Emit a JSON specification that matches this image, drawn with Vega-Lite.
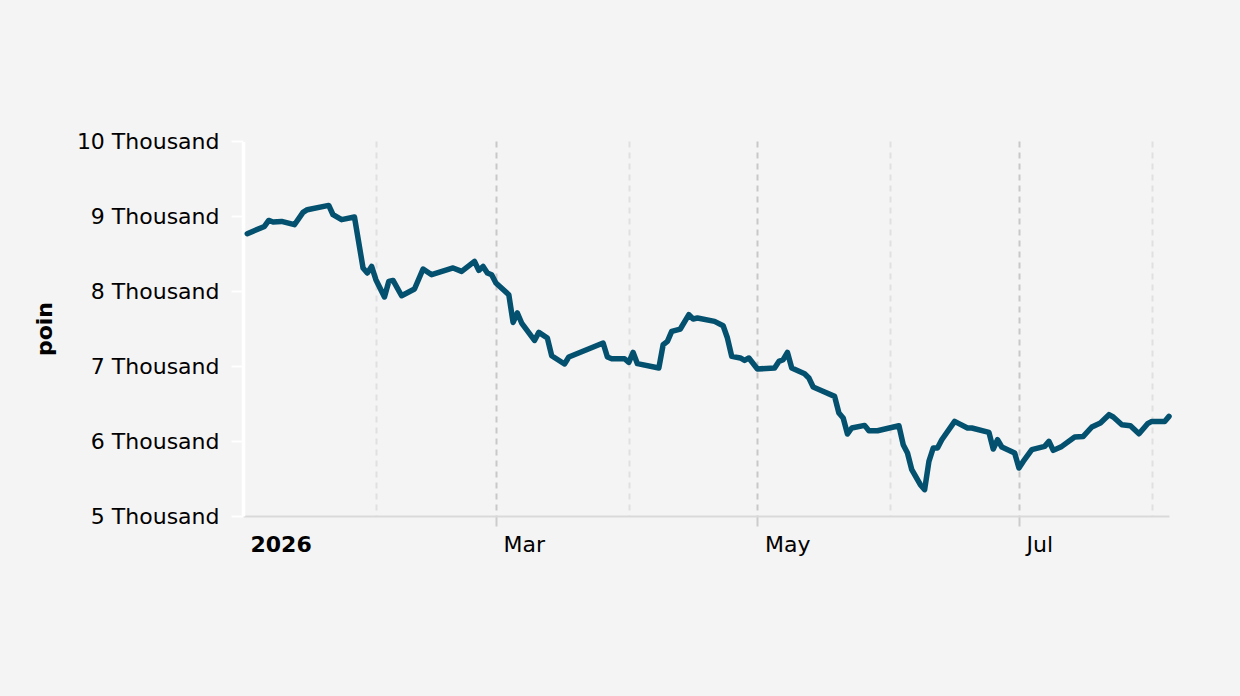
{
  "$schema": "https://vega.github.io/schema/vega-lite/v6.json",
  "width": 926,
  "height": 375,
  "autosize": {"type": "none"},
  "padding": {"left": 243, "top": 141, "right": 71, "bottom": 180},
  "background": "#f4f4f4",
  "data": {
    "values": [
      {"d": "2026-01-02", "v": 8764}, {"d": "2026-01-06", "v": 8861}, {"d": "2026-01-07", "v": 8941},
      {"d": "2026-01-08", "v": 8920}, {"d": "2026-01-10", "v": 8928}, {"d": "2026-01-13", "v": 8884},
      {"d": "2026-01-15", "v": 9048}, {"d": "2026-01-16", "v": 9084}, {"d": "2026-01-21", "v": 9141},
      {"d": "2026-01-22", "v": 9017}, {"d": "2026-01-24", "v": 8951}, {"d": "2026-01-27", "v": 8987},
      {"d": "2026-01-29", "v": 8307}, {"d": "2026-01-30", "v": 8240}, {"d": "2026-01-31", "v": 8328},
      {"d": "2026-02-01", "v": 8151}, {"d": "2026-02-03", "v": 7920}, {"d": "2026-02-04", "v": 8128},
      {"d": "2026-02-05", "v": 8141}, {"d": "2026-02-07", "v": 7937}, {"d": "2026-02-10", "v": 8027},
      {"d": "2026-02-12", "v": 8293}, {"d": "2026-02-14", "v": 8217}, {"d": "2026-02-19", "v": 8307},
      {"d": "2026-02-21", "v": 8261}, {"d": "2026-02-24", "v": 8395}, {"d": "2026-02-25", "v": 8275},
      {"d": "2026-02-26", "v": 8328}, {"d": "2026-02-27", "v": 8240}, {"d": "2026-02-28", "v": 8217},
      {"d": "2026-03-01", "v": 8107}, {"d": "2026-03-04", "v": 7951}, {"d": "2026-03-05", "v": 7581},
      {"d": "2026-03-06", "v": 7707}, {"d": "2026-03-07", "v": 7573}, {"d": "2026-03-10", "v": 7341},
      {"d": "2026-03-11", "v": 7448}, {"d": "2026-03-13", "v": 7373}, {"d": "2026-03-14", "v": 7137},
      {"d": "2026-03-17", "v": 7027}, {"d": "2026-03-18", "v": 7120}, {"d": "2026-03-26", "v": 7307},
      {"d": "2026-03-27", "v": 7120}, {"d": "2026-03-28", "v": 7097}, {"d": "2026-03-31", "v": 7097},
      {"d": "2026-04-01", "v": 7048}, {"d": "2026-04-02", "v": 7181}, {"d": "2026-04-03", "v": 7031},
      {"d": "2026-04-08", "v": 6973}, {"d": "2026-04-09", "v": 7284}, {"d": "2026-04-10", "v": 7328},
      {"d": "2026-04-11", "v": 7461}, {"d": "2026-04-13", "v": 7493}, {"d": "2026-04-15", "v": 7684},
      {"d": "2026-04-16", "v": 7627}, {"d": "2026-04-17", "v": 7640}, {"d": "2026-04-21", "v": 7595},
      {"d": "2026-04-23", "v": 7537}, {"d": "2026-04-24", "v": 7373}, {"d": "2026-04-25", "v": 7128},
      {"d": "2026-04-27", "v": 7107}, {"d": "2026-04-28", "v": 7075}, {"d": "2026-04-29", "v": 7107},
      {"d": "2026-05-01", "v": 6960}, {"d": "2026-05-05", "v": 6973}, {"d": "2026-05-06", "v": 7061},
      {"d": "2026-05-07", "v": 7084}, {"d": "2026-05-08", "v": 7181}, {"d": "2026-05-09", "v": 6973},
      {"d": "2026-05-12", "v": 6897}, {"d": "2026-05-13", "v": 6840}, {"d": "2026-05-14", "v": 6720},
      {"d": "2026-05-16", "v": 6671}, {"d": "2026-05-19", "v": 6595}, {"d": "2026-05-20", "v": 6373},
      {"d": "2026-05-21", "v": 6307}, {"d": "2026-05-22", "v": 6093}, {"d": "2026-05-23", "v": 6173},
      {"d": "2026-05-26", "v": 6208}, {"d": "2026-05-27", "v": 6137}, {"d": "2026-05-29", "v": 6137},
      {"d": "2026-06-03", "v": 6204}, {"d": "2026-06-04", "v": 5951}, {"d": "2026-06-05", "v": 5840},
      {"d": "2026-06-06", "v": 5617}, {"d": "2026-06-08", "v": 5417}, {"d": "2026-06-09", "v": 5351},
      {"d": "2026-06-10", "v": 5728}, {"d": "2026-06-11", "v": 5907}, {"d": "2026-06-12", "v": 5907},
      {"d": "2026-06-13", "v": 6017}, {"d": "2026-06-16", "v": 6261}, {"d": "2026-06-17", "v": 6231},
      {"d": "2026-06-19", "v": 6173}, {"d": "2026-06-20", "v": 6173}, {"d": "2026-06-24", "v": 6115},
      {"d": "2026-06-25", "v": 5893}, {"d": "2026-06-26", "v": 6017}, {"d": "2026-06-27", "v": 5920},
      {"d": "2026-06-30", "v": 5840}, {"d": "2026-07-01", "v": 5640}, {"d": "2026-07-02", "v": 5728},
      {"d": "2026-07-04", "v": 5884}, {"d": "2026-07-07", "v": 5928}, {"d": "2026-07-08", "v": 5995},
      {"d": "2026-07-09", "v": 5875}, {"d": "2026-07-11", "v": 5928}, {"d": "2026-07-14", "v": 6053},
      {"d": "2026-07-16", "v": 6061}, {"d": "2026-07-18", "v": 6187}, {"d": "2026-07-20", "v": 6240},
      {"d": "2026-07-22", "v": 6351}, {"d": "2026-07-23", "v": 6320}, {"d": "2026-07-25", "v": 6217},
      {"d": "2026-07-27", "v": 6204}, {"d": "2026-07-29", "v": 6097}, {"d": "2026-07-31", "v": 6231},
      {"d": "2026-08-01", "v": 6261}, {"d": "2026-08-04", "v": 6261}, {"d": "2026-08-05", "v": 6328}
    ]
  },
  "mark": {"type": "line", "color": "#03506f", "strokeWidth": 5.5, "strokeJoin": "round", "strokeCap": "round"},
  "encoding": {
    "x": {
      "field": "d",
      "type": "temporal",
      "scale": {
        "type": "utc",
        "domain": [
          {"year": 2026, "month": 1, "date": 1, "utc": true},
          {"year": 2026, "month": 8, "date": 5, "utc": true}
        ]
      },
      "axis": {
        "title": null,
        "values": [
          {"year": 2026, "month": 1, "date": 1, "utc": true},
          {"year": 2026, "month": 2, "date": 1, "utc": true},
          {"year": 2026, "month": 3, "date": 1, "utc": true},
          {"year": 2026, "month": 4, "date": 1, "utc": true},
          {"year": 2026, "month": 5, "date": 1, "utc": true},
          {"year": 2026, "month": 6, "date": 1, "utc": true},
          {"year": 2026, "month": 7, "date": 1, "utc": true},
          {"year": 2026, "month": 8, "date": 1, "utc": true}
        ],
        "labelExpr": "utcmonth(datum.value) == 0 ? '2026' : (utcmonth(datum.value) % 2 == 0 ? utcFormat(datum.value, '%b') : '')",
        "labelAlign": "left",
        "labelOffset": 7,
        "labelPadding": 8,
        "labelFontSize": 22,
        "labelColor": "#000000",
        "labelFontWeight": {"condition": {"test": "utcmonth(datum.value) == 0", "value": "bold"}, "value": "normal"},
        "labelFlush": false,
        "labelOverlap": false,
        "domainColor": "#d9d9d9",
        "domainWidth": 2,
        "tickSize": 10,
        "tickWidth": 2,
        "tickColor": {"condition": {"test": "utcmonth(datum.value) % 2 == 0 && utcmonth(datum.value) > 0", "value": "#cccccc"}, "value": "transparent"},
        "grid": true,
        "gridDash": [6, 5],
        "gridWidth": 2,
        "gridColor": {"condition": {"test": "utcmonth(datum.value) % 2 == 0", "value": "#c8c8c8"}, "value": "#e0e0e0"}
      }
    },
    "y": {
      "field": "v",
      "type": "quantitative",
      "scale": {"domain": [5000, 10000], "nice": false, "zero": false},
      "axis": {
        "title": "poin",
        "titleFontSize": 22,
        "titleFontWeight": "bold",
        "titleColor": "#000000",
        "titlePadding": 20,
        "values": [5000, 6000, 7000, 8000, 9000, 10000],
        "labelExpr": "(datum.value / 1000) + ' Thousand'",
        "labelFontSize": 22,
        "labelColor": "#000000",
        "labelPadding": 12,
        "grid": false,
        "domainColor": "#ffffff",
        "domainWidth": 3.5,
        "tickColor": "#ffffff",
        "tickWidth": 2,
        "tickSize": 12
      }
    }
  },
  "config": {
    "font": "DejaVu Sans",
    "view": {"stroke": null}
  }
}
